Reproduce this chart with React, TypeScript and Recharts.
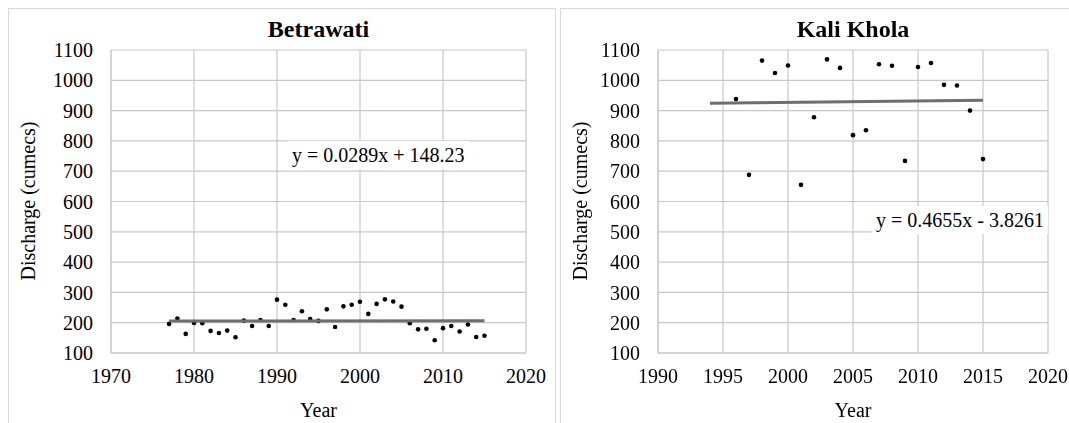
import { ScatterChart, Scatter, XAxis, YAxis, CartesianGrid } from "recharts";

const FONT = '"Liberation Serif", "Times New Roman", serif';
const GRID = "#c8c8c8";

// Betrawati annual discharge
const betYears = [
  1977, 1978, 1979, 1980, 1981, 1982, 1983, 1984, 1985, 1986, 1987, 1988, 1989,
  1990, 1991, 1992, 1993, 1994, 1995, 1996, 1997, 1998, 1999, 2000, 2001, 2002,
  2003, 2004, 2005, 2006, 2007, 2008, 2009, 2010, 2011, 2012, 2013, 2014, 2015,
];
const betQ = [
  196, 214, 163, 199, 198, 173, 166, 174, 152, 207, 189, 209, 189,
  276, 259, 209, 238, 212, 206, 244, 186, 254, 259, 269, 229, 262,
  277, 270, 253, 198, 178, 180, 142, 182, 189, 171, 194, 153, 157,
];
const betTrendYears = [1977, 2015];
const betTrendQ = [205.4, 206.5];

// Kali Khola annual discharge
const kaliYears = [
  1996, 1997, 1998, 1999, 2000, 2001, 2002, 2003, 2004, 2005,
  2006, 2007, 2008, 2009, 2010, 2011, 2012, 2013, 2014, 2015,
];
const kaliQ = [
  938, 688, 1065, 1024, 1049, 655, 878, 1069, 1041, 819,
  835, 1053, 1048, 734, 1044, 1057, 985, 983, 900, 740,
];
const kaliTrendYears = [1994, 2015];
const kaliTrendQ = [924.4, 934.2];

const yTicks = [100, 200, 300, 400, 500, 600, 700, 800, 900, 1000, 1100];
const betXTicks = [1970, 1980, 1990, 2000, 2010, 2020];
const kaliXTicks = [1990, 1995, 2000, 2005, 2010, 2015, 2020];

const zip = (xs: number[], ys: number[]) => xs.map((x, i) => ({ x, y: ys[i] }));

const Dot = (p: any) => <circle cx={p.cx} cy={p.cy} r={2.3} fill="#000" />;

type PanelProps = {
  title: string;
  width: number;
  yAxisWidth: number;
  marginRight: number;
  xTicks: number[];
  points: { x: number; y: number }[];
  trend: { x: number; y: number }[];
  equation: string;
  eqLeft: number;
  eqTop: number;
  rightBorder: boolean;
};

function Panel(props: PanelProps) {
  const chartW = props.width - (props.rightBorder ? 2 : 1);
  const chartH = 406;
  const plotLeft = props.yAxisWidth;
  const plotRight = chartW - props.marginRight;
  const midX = (plotLeft + plotRight) / 2;
  const tick = { fill: "#000", fontSize: 20, fontFamily: FONT };

  return (
    <div
      style={{
        position: "relative",
        width: props.width,
        height: 415,
        boxSizing: "border-box",
        borderTop: "1px solid #d9d9d9",
        borderLeft: "1px solid #d9d9d9",
        borderRight: props.rightBorder ? "1px solid #d9d9d9" : "none",
        background: "#fff",
        fontFamily: FONT,
        flex: "none",
      }}
    >
      <ScatterChart
        width={chartW}
        height={chartH}
        margin={{ top: 41, right: props.marginRight, left: 0, bottom: 32 }}
      >
        <CartesianGrid stroke={GRID} strokeWidth={1.2} />
        <XAxis
          type="number"
          dataKey="x"
          domain={[props.xTicks[0], props.xTicks[props.xTicks.length - 1]]}
          ticks={props.xTicks}
          interval={0}
          height={30}
          tickSize={0}
          tickMargin={16}
          axisLine={{ stroke: GRID }}
          tick={tick}
        />
        <YAxis
          type="number"
          dataKey="y"
          domain={[100, 1100]}
          ticks={yTicks}
          interval={0}
          width={props.yAxisWidth}
          tickSize={0}
          tickMargin={18}
          axisLine={{ stroke: GRID }}
          tick={tick}
        />
        <Scatter data={props.points} shape={Dot} isAnimationActive={false} />
        <Scatter
          data={props.trend}
          shape={() => null}
          line={{ stroke: "#6e6e6e", strokeWidth: 3 }}
          isAnimationActive={false}
        />
      </ScatterChart>

      <div
        style={{
          position: "absolute",
          left: midX - 150,
          width: 300,
          top: 8,
          textAlign: "center",
          fontWeight: "bold",
          fontSize: 24,
          lineHeight: "24px",
        }}
      >
        {props.title}
      </div>
      <div
        style={{
          position: "absolute",
          left: 19,
          top: 192,
          transform: "translate(-50%, -50%) rotate(-90deg)",
          whiteSpace: "nowrap",
          fontSize: 20,
          lineHeight: "20px",
        }}
      >
        Discharge (cumecs)
      </div>
      <div
        style={{
          position: "absolute",
          left: midX - 100,
          width: 200,
          top: 391,
          textAlign: "center",
          fontSize: 20,
          lineHeight: "20px",
        }}
      >
        Year
      </div>
      <div
        style={{
          position: "absolute",
          left: props.eqLeft,
          top: props.eqTop,
          background: "#fff",
          padding: "3px 4px",
          fontSize: 20,
          lineHeight: "22px",
          whiteSpace: "nowrap",
        }}
      >
        {props.equation}
      </div>
    </div>
  );
}

export default function App() {
  return (
    <div style={{ height: 407 }}>
      <style>{`.recharts-surface { overflow: visible; } .recharts-text { font-family: ${FONT}; }`}</style>
      <div
        style={{
          position: "fixed",
          left: 8,
          top: 8,
          display: "flex",
          gap: 4,
          width: 1061,
          height: 415,
          overflow: "hidden",
        }}
      >
        <Panel
          title="Betrawati"
          width={548}
          yAxisWidth={102}
          marginRight={29}
          xTicks={betXTicks}
          points={zip(betYears, betQ)}
          trend={zip(betTrendYears, betTrendQ)}
          equation="y = 0.0289x + 148.23"
          eqLeft={279}
          eqTop={132}
          rightBorder={true}
        />
        <Panel
          title="Kali Khola"
          width={509}
          yAxisWidth={97}
          marginRight={21}
          xTicks={kaliXTicks}
          points={zip(kaliYears, kaliQ)}
          trend={zip(kaliTrendYears, kaliTrendQ)}
          equation="y = 0.4655x - 3.8261"
          eqLeft={311}
          eqTop={197}
          rightBorder={false}
        />
      </div>
    </div>
  );
}
